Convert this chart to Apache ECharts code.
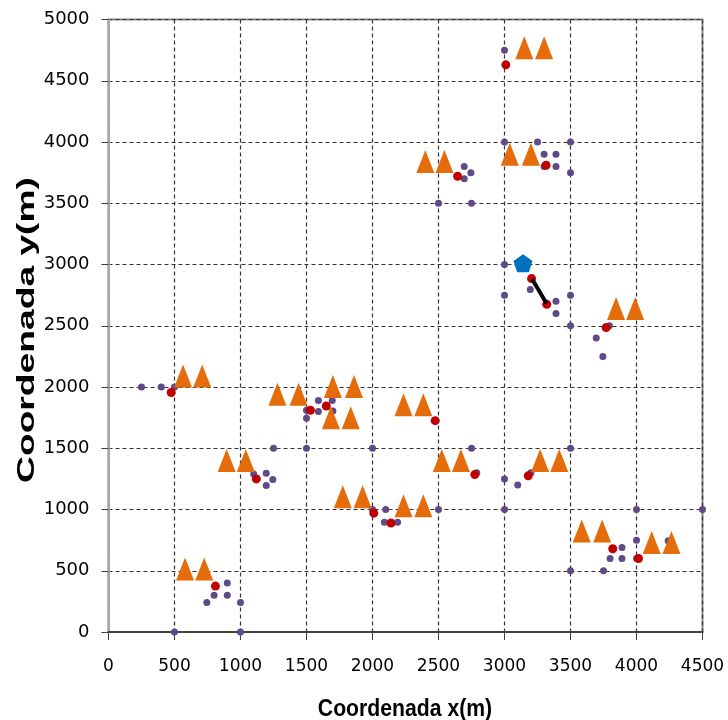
<!DOCTYPE html>
<html>
<head>
<meta charset="utf-8">
<script src="https://cdn.jsdelivr.net/npm/echarts@6/dist/echarts.min.js"></script>
<style>html,body{margin:0;padding:0;background:#fff}#c{width:728px;height:720px}</style>
</head>
<body>
<div id="c"></div>
<script>
// Small purple measurement points [x, y]
var purplePoints = [
  [3000,4750],
  [3000,4000],[3250,4000],[3500,4000],
  [3300,3900],[3390,3900],[3300,3800],[3390,3800],[3500,3750],
  [2695,3800],[2745,3750],[2695,3700],
  [2500,3500],[2750,3500],
  [3000,3000],[3000,2750],[3195,2795],[3390,2700],[3390,2600],[3500,2750],[3500,2500],
  [3795,2500],[3695,2400],[3745,2250],
  [250,2000],[400,2000],[500,2000],
  [1590,1890],[1695,1890],[1500,1810],[1590,1800],[1700,1805],[1500,1745],
  [1250,1500],[1500,1500],[2000,1500],[2750,1500],[3500,1500],
  [1100,1290],[1195,1295],[1245,1245],[1195,1195],
  [2790,1300],[3000,1250],[3100,1200],[3200,1300],
  [2000,1000],[2100,1000],[2090,895],[2190,895],
  [2500,1000],[3000,1000],[4000,1000],[4500,1000],
  [3890,690],[3800,600],[3890,600],[4000,750],[4000,600],[4240,745],
  [3500,500],[3750,500],
  [900,400],[900,300],[800,300],[745,240],[1000,240],[500,0],[1000,0]
];
// Red points
var redPoints = [
  [3010,4630],[3315,3810],[2645,3720],[3205,2885],[3320,2675],[3770,2485],
  [475,1955],[1530,1810],[1650,1845],[2475,1725],[1120,1250],[2775,1285],[3180,1275],
  [2010,970],[2140,890],[3820,680],[4015,600],[810,375]
];
// Orange triangles
var trianglePoints = [
  [3150,4770],[3300,4770],[3040,3900],[3200,3900],[2400,3840],[2545,3840],
  [3845,2640],[3990,2640],[565,2090],[710,2090],[1280,1940],[1440,1940],[1700,2005],[1860,2005],
  [1685,1750],[1835,1750],[2235,1855],[2385,1855],[895,1400],[1040,1400],[2525,1400],[2670,1400],
  [3270,1400],[3415,1400],[1775,1105],[1925,1105],[2235,1030],[2385,1030],[3585,825],[3740,825],
  [4115,730],[4265,730],[580,515],[725,515]
];
// Blue pentagon
var pentagonPoints = [[3140,3010]];
// Black segment
var segmentPoints = [[3210,2880],[3320,2680]];

var xTicks = {min:0, max:4500, interval:500};
var yTicks = {min:0, max:5000, interval:500};
var xTitle = 'Coordenada x(m)';
var yTitle = 'Coordenada y(m)';

var chart = echarts.init(document.getElementById('c'), null, {renderer:'canvas'});
var gridDash = {color:'#333', width:1.2, type:[4,3]};
var titleStyle = {fontFamily:'Liberation Sans', fontWeight:'bold', fontSize:20, fill:'#000', align:'center', verticalAlign:'middle'};
chart.setOption({
  animation:false,
  backgroundColor:'#fff',
  grid:{left:108.5, right:25.5, top:19.5, bottom:88, show:true, borderColor:'#8a8a8a', borderWidth:2, backgroundColor:'transparent'},
  xAxis:{
    type:'value', min:xTicks.min, max:xTicks.max, interval:xTicks.interval,
    axisLine:{show:true, onZero:false, lineStyle:{color:'#404040', width:2}},
    axisTick:{show:true, inside:false, length:8, lineStyle:{color:'#404040'}},
    axisLabel:{margin:26, fontFamily:'DejaVu Sans', fontSize:17, color:'#000', formatter:function(v){return String(v);}},
    splitLine:{show:true, lineStyle:gridDash}
  },
  yAxis:{
    type:'value', min:yTicks.min, max:yTicks.max, interval:yTicks.interval,
    axisLine:{show:true, onZero:false, lineStyle:{color:'#a8a8a8', width:2}},
    axisTick:{show:true, inside:false, length:7, lineStyle:{color:'#404040'}},
    axisLabel:{margin:19, fontFamily:'DejaVu Sans', fontSize:18, color:'#000', formatter:function(v){return String(v);}},
    splitLine:{show:true, lineStyle:gridDash}
  },
  graphic:[
    {type:'text', x:405, y:709, scaleX:1.06, scaleY:1.2, style:Object.assign({text:xTitle}, titleStyle)},
    {type:'text', x:27, y:330, rotation:Math.PI/2, scaleX:1.86, scaleY:1.2, style:Object.assign({text:yTitle}, titleStyle)}
  ],
  series:[
    {type:'scatter', data:purplePoints, symbol:'circle', symbolSize:7, itemStyle:{color:'#5d4a86', opacity:1}, z:2},
    {type:'scatter', data:redPoints, symbol:'circle', symbolSize:9, itemStyle:{color:'#c00000', opacity:1}, z:3},
    {type:'scatter', data:trianglePoints, symbol:'triangle', symbolSize:[18,23], itemStyle:{color:'#e46c0a', opacity:1}, z:4},
    {type:'line', data:segmentPoints, symbol:'none', lineStyle:{color:'#000', width:4}, z:5},
    {type:'scatter', data:pentagonPoints, symbol:'path://M50,0 L100,38 L81,100 L19,100 L0,38 Z', symbolSize:[19,18], itemStyle:{color:'#0070c0', opacity:1}, z:6}
  ]
});
</script>
</body>
</html>
